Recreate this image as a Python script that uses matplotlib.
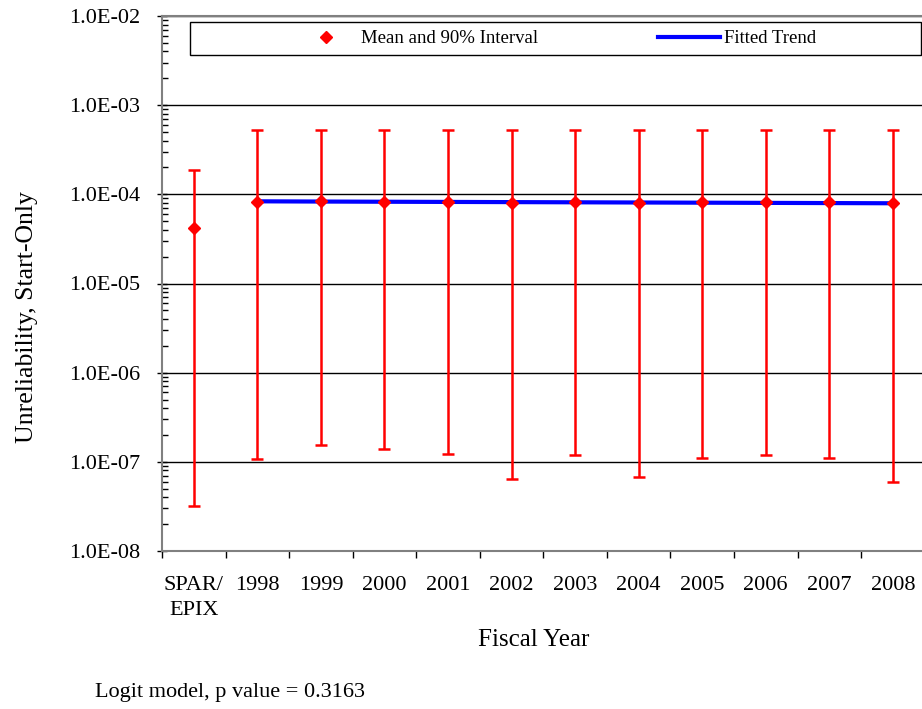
import matplotlib
matplotlib.use('Agg')
import matplotlib.pyplot as plt
from matplotlib.patches import Rectangle
from matplotlib.lines import Line2D
from matplotlib.ticker import FuncFormatter, LogLocator, NullFormatter
import numpy as np

plt.rcParams['font.family'] = ['Liberation Serif', 'DejaVu Serif']

categories = ['SPAR/\nEPIX', '1998', '1999', '2000', '2001', '2002', '2003',
              '2004', '2005', '2006', '2007', '2008']
means = [4.2e-5, 8.2e-5, 8.4e-5, 8.3e-5, 8.3e-5, 7.9e-5, 8.2e-5,
         8.0e-5, 8.3e-5, 8.2e-5, 8.1e-5, 7.9e-5]
lower = [3.2e-8, 1.08e-7, 1.55e-7, 1.39e-7, 1.22e-7, 6.4e-8, 1.19e-7,
         6.8e-8, 1.11e-7, 1.18e-7, 1.11e-7, 5.9e-8]
upper = [1.87e-4, 5.2e-4, 5.2e-4, 5.2e-4, 5.2e-4, 5.2e-4, 5.2e-4,
         5.2e-4, 5.2e-4, 5.2e-4, 5.2e-4, 5.2e-4]
# fitted trend, 1998-2008
trend = [8.35e-5, 8.30e-5, 8.26e-5, 8.22e-5, 8.18e-5, 8.14e-5,
         8.10e-5, 8.06e-5, 8.02e-5, 7.98e-5, 7.94e-5]
p_value = 0.3163

W, H = 922, 709
fig = plt.figure(figsize=(W / 100, H / 100), dpi=100)
ax = fig.add_axes([162 / W, 1 - 551 / H, 762.6 / W, 535 / H])

x = np.arange(len(categories))
m = np.array(means)
yerr = [m - np.array(lower), np.array(upper) - m]

ax.plot(x[1:], trend, color='#0000ff', lw=3, zorder=2)
ax.errorbar(x, means, yerr=yerr, fmt='D', color='#ff0000', ms=6,
            ecolor='#ff0000', elinewidth=1.8, capsize=4, capthick=1.8, zorder=3)

ax.set_yscale('log')
ax.set_ylim(1e-8, 1e-2)
ax.set_xlim(-0.5, len(categories) - 0.5)
ax.yaxis.set_major_formatter(FuncFormatter(lambda v, pos: '{:.1E}'.format(v)))
ax.yaxis.set_minor_locator(LogLocator(base=10, subs=range(2, 10), numticks=20))
ax.yaxis.set_minor_formatter(NullFormatter())
ax.tick_params(axis='y', which='major', direction='inout', length=7, width=1,
               labelsize=16, pad=12)
ax.tick_params(axis='y', which='minor', direction='in', length=4, width=1)

ax.set_xticks(x)
ax.set_xticklabels(categories)
for lbl in ax.get_xticklabels():
    lbl.set_linespacing(1.45)
ax.set_xticks(np.arange(-0.5, len(categories)), minor=True)
ax.tick_params(axis='x', which='major', length=0, labelsize=16, pad=18)
ax.tick_params(axis='x', which='minor', direction='out', length=5, width=1)

ax.grid(axis='y', which='major', color='black', lw=1)
for side in ['left', 'bottom', 'top']:
    ax.spines[side].set_color('#808080')
    ax.spines[side].set_linewidth(1.5)
ax.spines['right'].set_visible(False)

ax.set_ylabel('Unreliability, Start-Only', fontsize=18.5)
ax.yaxis.set_label_coords(-0.163, 0.437)
ax.set_xlabel('Fiscal Year', fontsize=18)
ax.xaxis.set_label_coords(0.488, -0.145)

# legend box across the top of the plot
fig.add_artist(Rectangle((190 / W, 1 - 55 / H), 731 / W, 33 / H,
                         transform=fig.transFigure, facecolor='white',
                         edgecolor='black', lw=1, zorder=5))
handles = [Line2D([], [], marker='D', color='#ff0000', ls='none', ms=6),
           Line2D([], [], color='#0000ff', lw=3)]
leg = fig.legend(handles, ['Mean and 90% Interval', 'Fitted Trend'], ncol=2,
                 loc='center', bbox_to_anchor=(555.5 / W, 1 - 38.5 / H),
                 frameon=False, handlelength=3.3, handletextpad=0.2,
                 columnspacing=6.4, fontsize=13.5)
leg.set_zorder(6)

fig.text(95 / W, 1 - 692 / H, 'Logit model, p value = {}'.format(p_value),
         fontsize=16, va='center')

fig.savefig('out.png', dpi=100)
